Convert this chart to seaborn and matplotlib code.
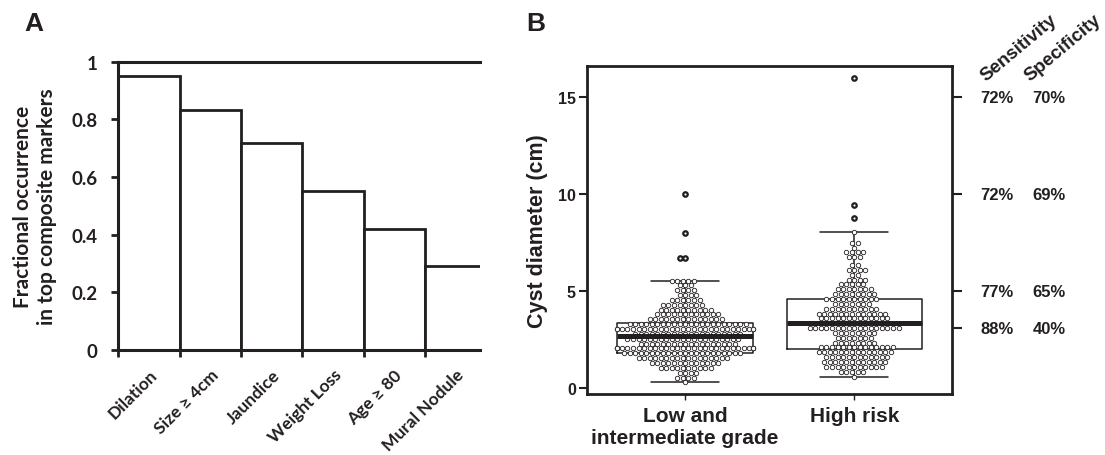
import numpy as np
import pandas as pd
import matplotlib
matplotlib.use('Agg')
import matplotlib.pyplot as plt
import matplotlib.transforms as mtransforms
import seaborn as sns

# ---- panel A: fractional occurrence of each marker
markers = ['Dilation', 'Size ≥ 4cm', 'Jaundice', 'Weight Loss', 'Age ≥ 80', 'Mural Nodule']
occurrence = [0.95, 0.833, 0.718, 0.551, 0.42, 0.29]

groups = ['Low and\nintermediate grade', 'High risk']
low_sizes = [0.3, 0.55, 0.8, 1.05, 1.3, 1.55, 1.8, 2.05, 2.3, 2.55, 2.8, 3.05, 3.3,
             3.55, 3.8, 4.05, 4.3, 4.55, 4.8, 5.05, 5.3, 5.55, 6.7, 8.0, 10.0]
low_counts = [1, 4, 4, 10, 13, 17, 22, 30, 18, 21, 20, 28, 22,
              14, 12, 10, 8, 6, 4, 4, 3, 5, 2, 1, 1]
high_sizes = [0.6, 0.85, 1.1, 1.35, 1.6, 1.85, 2.1, 2.35, 2.6, 2.85, 3.1, 3.35,
              3.6, 3.85, 4.1, 4.35, 4.6, 4.85, 5.1, 5.35, 5.6, 5.85, 6.1, 6.35,
              6.75, 7.0, 7.25, 7.5, 8.05, 8.8, 9.45, 16.0]
high_counts = [1, 5, 11, 12, 12, 14, 14, 8, 7, 8, 17, 12,
               13, 13, 10, 7, 10, 8, 7, 5, 4, 2, 4, 2,
               3, 4, 1, 2, 1, 1, 1, 1]

# size cut-offs with sensitivity / specificity
cut_points = [15, 10, 5, 3.1]
sensitivity = ['72%', '72%', '77%', '88%']
specificity = ['70%', '69%', '65%', '40%']

df = pd.DataFrame({
    'grade': np.repeat(groups, [sum(low_counts), sum(high_counts)]),
    'size': np.concatenate([np.repeat(low_sizes, low_counts),
                            np.repeat(high_sizes, high_counts)]),
})

sns.set_theme(style='white')
ink = '#231f20'
plt.rcParams['font.family'] = ['Liberation Sans', 'DejaVu Sans']
plt.rcParams['font.weight'] = 'bold'
plt.rcParams['axes.labelweight'] = 'bold'
for k in ['text.color', 'axes.labelcolor', 'axes.edgecolor', 'xtick.color', 'ytick.color']:
    plt.rcParams[k] = ink
calibri_like = ['Lato', 'DejaVu Sans']

fig = plt.figure(figsize=(11.05, 4.56), dpi=100)

# ---------------- A
axA = fig.add_axes([0.1071, 0.2309, 0.3273, 0.6316])
sns.barplot(x=markers, y=occurrence, width=1, color='white', saturation=1,
            edgecolor=ink, linewidth=2, ax=axA)
axA.set_xlim(-0.5, 5.4)
axA.set_ylim(0, 1)
axA.spines['right'].set_visible(False)
for s in ['left', 'bottom', 'top']:
    axA.spines[s].set_linewidth(2.2)
axA.set_yticks([0, 0.2, 0.4, 0.6, 0.8, 1.0], ['0', '0.2', '0.4', '0.6', '0.8', '1'])
axA.set_xticks(range(len(markers)), markers)
axA.set_xticks(np.arange(len(markers)) - 0.5, minor=True)
axA.tick_params(axis='x', which='major', length=0, pad=12)
axA.tick_params(axis='x', which='minor', bottom=True, length=5, width=2, direction='out')
axA.tick_params(axis='y', left=True, length=5, width=2, pad=10)
for lab in axA.get_xticklabels():
    lab.set(rotation=45, ha='right', va='top', rotation_mode='anchor',
            family=calibri_like, fontsize=12.5)
for lab in axA.get_yticklabels():
    lab.set(family=calibri_like, fontsize=13.5)
axA.set_ylabel('Fractional occurrence\nin top composite markers', family=calibri_like,
               fontsize=15, labelpad=10, linespacing=1.25)
fig.text(24 / 1105, 1 - 12 / 456, 'A', fontsize=19, va='top', ha='left')

# ---------------- B
axB = fig.add_axes([0.5312, 0.1338, 0.3306, 0.7186])
sns.boxplot(data=df, x='grade', y='size', order=groups, width=0.8, fill=False,
            color=ink, linewidth=1.1, showfliers=False, whis=1.5,
            medianprops={'linewidth': 3.6, 'zorder': 5}, ax=axB)
sns.swarmplot(data=df, x='grade', y='size', order=groups, size=3.2, color='white',
              edgecolor=ink, linewidth=0.6, zorder=3, ax=axB, warn_thresh=1)

axB.set_xlim(-0.58, 1.58)
axB.set_ylim(-0.3, 16.6)
axB.set_yticks([0, 5, 10, 15])
axB.set_xlabel('')
axB.set_ylabel('Cyst diameter (cm)', fontsize=15.5, labelpad=7)
for s in axB.spines.values():
    s.set_linewidth(2)
axB.tick_params(axis='y', left=True, length=6, width=1.5, labelsize=11.5, pad=2)
axB.tick_params(axis='x', bottom=True, length=4, width=1, labelsize=15, pad=5)

axR = axB.twinx()
axR.set_ylim(axB.get_ylim())
axR.set_yticks(cut_points, [])
axR.tick_params(axis='y', right=True, length=7, width=1.5)
for s in axR.spines.values():
    s.set_visible(False)

trans = mtransforms.blended_transform_factory(axB.transAxes, axB.transData)
for v, se, sp in zip(cut_points, sensitivity, specificity):
    axB.text(1.1224, v, se, transform=trans, ha='center', va='center', fontsize=12)
    axB.text(1.2647, v, sp, transform=trans, ha='center', va='center', fontsize=12)
axB.text(1.100, 0.946, 'Sensitivity', transform=axB.transAxes, rotation=40,
         rotation_mode='anchor', ha='left', va='bottom', fontsize=13.5)
axB.text(1.220, 0.946, 'Specificity', transform=axB.transAxes, rotation=40,
         rotation_mode='anchor', ha='left', va='bottom', fontsize=13.5)
fig.text(526 / 1105, 1 - 12 / 456, 'B', fontsize=19, va='top', ha='left')

# outliers get a heavier ring, like the box-plot fliers in the original:
# let seaborn place the swarm first, then ring the points beyond the whiskers
fig.canvas.draw()
for coll, grp in zip(list(axB.collections), groups):
    xy = np.asarray(coll.get_offsets())
    q1, q3 = np.percentile(df.loc[df['grade'] == grp, 'size'], [25, 75])
    out = xy[xy[:, 1] > q3 + 1.5 * (q3 - q1)]
    axB.scatter(out[:, 0], out[:, 1], s=3.2 ** 2, facecolor='white', edgecolor=ink,
                linewidth=1.6, zorder=4)

fig.savefig('out.png', dpi=100)
